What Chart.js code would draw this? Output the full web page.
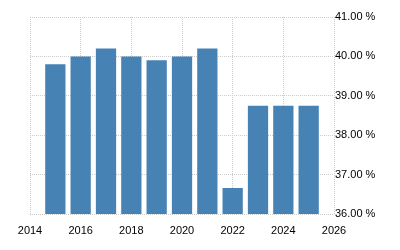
<!DOCTYPE html>
<html>
<head>
<meta charset="utf-8">
<script src="https://cdn.jsdelivr.net/npm/chart.js@4"></script>
<style>
html,body{margin:0;padding:0;background:#fff;}
#wrap{width:400px;height:250px;position:relative;}
</style>
</head>
<body>
<div id="wrap"><canvas id="c" width="400" height="250"></canvas></div>
<script>
const years = [2015, 2016, 2017, 2018, 2019, 2020, 2021, 2022, 2023, 2024, 2025];
const values = [39.8, 40.0, 40.2, 40.0, 39.9, 40.0, 40.2, 36.66, 38.75, 38.75, 38.75];
const xTicks = [2014, 2016, 2018, 2020, 2022, 2024, 2026];
const yTicks = [36, 37, 38, 39, 40, 41];

const points = years.map((y, i) => ({x: y, y: values[i]}));

new Chart(document.getElementById('c'), {
  type: 'bar',
  data: {
    datasets: [{
      data: points,
      backgroundColor: '#4682b4',
      borderWidth: 0,
      barPercentage: 0.8,
      categoryPercentage: 1.0
    }]
  },
  options: {
    responsive: false,
    animation: false,
    devicePixelRatio: 1,
    layout: {padding: {left: 30, right: 0, top: 17, bottom: 0}},
    plugins: {legend: {display: false}, tooltip: {enabled: false}},
    scales: {
      x: {
        type: 'linear',
        min: 2014,
        max: 2026,
        offset: false,
        afterBuildTicks: (s) => { s.ticks = xTicks.map(v => ({value: v})); },
        afterFit: (s) => { s.height = 36; },
        ticks: {
          color: '#000',
          font: {family: 'Liberation Sans, Arial', size: 11},
          padding: 10,
          maxRotation: 0,
          callback: (v) => String(v)
        },
        grid: {color: '#cccccc', drawTicks: false, lineWidth: 1, offset: false},
        border: {display: false, dash: [1, 1]}
      },
      y: {
        position: 'right',
        min: 36,
        max: 41,
        afterBuildTicks: (s) => { s.ticks = yTicks.map(v => ({value: v})); },
        afterFit: (s) => { s.width = 66; },
        ticks: {
          color: '#000',
          font: {family: 'Liberation Sans, Arial', size: 11},
          padding: 1,
          callback: (v) => v.toFixed(2) + ' %'
        },
        grid: {color: '#cccccc', drawTicks: false, lineWidth: 1},
        border: {display: false, dash: [1, 1]}
      }
    }
  }
});
</script>
</body>
</html>
